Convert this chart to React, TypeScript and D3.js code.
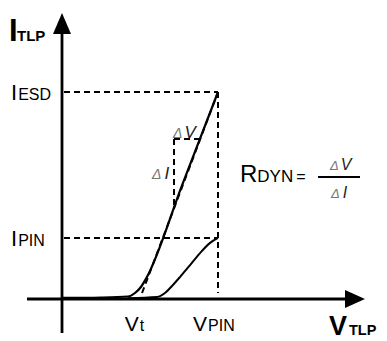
import React from 'react';
import * as d3 from 'd3';

// normalised units: V / VPIN and I / IESD
const mainV = [0, 0.25, 0.423, 0.468, 0.506, 0.538, 0.77, 1];
const mainI = [0.005, 0.007, 0.012, 0.029, 0.058, 0.097, 0.55, 1];
const pinV = [0.42, 0.609, 0.66, 0.705, 0.756, 0.821, 0.885, 0.949, 1];
const pinI = [0.004, 0.0097, 0.029, 0.063, 0.106, 0.164, 0.222, 0.271, 0.295];
const tangentV = [0.513, 1];
const tangentI = [0.029, 1];
const iLevels = [1, 0.295];
const iNames = ['ESD', 'PIN'];
const vLevels = [0.44, 1];
const vNames = ['t', 'PIN'];
const deltaTop = 0.773;
const deltaLeft = 0.718;

const W = 387;
const H = 341;
const font = '"Liberation Sans", Arial, sans-serif';

const App = () => {
    const x = d3.scaleLinear().domain([0, 1]).range([62, 218]);
    const y = d3.scaleLinear().domain([0, 1]).range([299, 92]);

    const line = d3
        .line<[number, number]>()
        .x((d) => x(d[0]))
        .y((d) => y(d[1]))
        .curve(d3.curveMonotoneX);
    const straight = d3
        .line<[number, number]>()
        .x((d) => x(d[0]))
        .y((d) => y(d[1]));

    const mainPts = mainV.map((v, i) => [v, mainI[i]] as [number, number]);
    const pinPts = pinV.map((v, i) => [v, pinI[i]] as [number, number]);
    const tanPts = tangentV.map((v, i) => [v, tangentI[i]] as [number, number]);

    // tangent line helpers for the delta triangle
    const slope = (tangentI[1] - tangentI[0]) / (tangentV[1] - tangentV[0]);
    const iAt = (v: number) => tangentI[0] + (v - tangentV[0]) * slope;
    const vAt = (i: number) => tangentV[0] + (i - tangentI[0]) / slope;

    const x0 = x(0);
    const y0 = y(0);
    const dash = '6,4';

    return (
        <svg width={W} height={H} style={{ position: 'absolute', left: 0, top: 0, background: '#fff' }} fontFamily={font}>
            {/* axes */}
            <line x1={27} x2={350} y1={y0} y2={y0} stroke="#000" strokeWidth={2.8} />
            <path d={`M365,${y0} L345,${y0 - 9} L345,${y0 + 9} Z`} fill="#000" />
            <line x1={x0} x2={x0} y1={333} y2={28} stroke="#000" strokeWidth={2.8} />
            <path d={`M${x0},13 L${x0 - 9},34 L${x0 + 9},34 Z`} fill="#000" />

            {/* reference dashed lines */}
            {iLevels.map((lv, i) => (
                <line key={'h' + i} x1={x0 + 2} x2={x(1)} y1={y(lv)} y2={y(lv)} stroke="#000" strokeWidth={2} strokeDasharray={dash} />
            ))}
            <line x1={x(1)} x2={x(1)} y1={y(1)} y2={y0 - 6} stroke="#000" strokeWidth={2} strokeDasharray={dash} />

            {/* tangent */}
            <path d={straight(tanPts) || ''} fill="none" stroke="#000" strokeWidth={2} strokeDasharray={dash} />

            {/* delta triangle */}
            <line x1={x(deltaLeft)} x2={x(deltaLeft)} y1={y(deltaTop)} y2={y(iAt(deltaLeft))} stroke="#000" strokeWidth={2} strokeDasharray={dash} />
            <line x1={x(deltaLeft)} x2={x(vAt(deltaTop))} y1={y(deltaTop)} y2={y(deltaTop)} stroke="#000" strokeWidth={2} strokeDasharray={dash} />

            {/* curves */}
            <path d={line(mainPts) || ''} fill="none" stroke="#000" strokeWidth={2.2} />
            <path d={line(pinPts) || ''} fill="none" stroke="#000" strokeWidth={2} />

            {/* axis titles */}
            <text x={9} y={41} fontWeight="bold" fontSize={31}>I</text>
            <text x={17} y={41} fontWeight="bold" fontSize={15}>TLP</text>
            <text x={329} y={335} fontWeight="bold" fontSize={27}>V</text>
            <text x={349} y={335} fontWeight="bold" fontSize={14.5}>TLP</text>

            {/* current labels */}
            {iLevels.map((lv, i) => (
                <text key={'il' + i} x={11} y={y(lv) + 8} fontSize={22}>
                    I<tspan fontSize={16} dx={1}>{iNames[i]}</tspan>
                </text>
            ))}

            {/* voltage labels */}
            {vLevels.map((lv, i) => (
                <text key={'vl' + i} x={x(lv) - 6 - (i ? 19 : 0)} y={331} fontSize={21}>
                    V<tspan fontSize={16} dx={1}>{vNames[i]}</tspan>
                </text>
            ))}

            {/* delta labels on chart */}
            <text x={173} y={138} fontSize={17} fontStyle="italic">
                <tspan fill="#777" fontSize={14}>Δ</tspan>
                <tspan fill="#222" dx={2}>V</tspan>
            </text>
            <text x={152} y={179} fontSize={17} fontStyle="italic">
                <tspan fill="#777" fontSize={14}>Δ</tspan>
                <tspan fill="#222" dx={3}>I</tspan>
            </text>

            {/* R_DYN formula */}
            <text x={240} y={182} fontSize={24}>
                R<tspan fontSize={17}>DYN</tspan>
                <tspan fontSize={16} dx={3}>=</tspan>
            </text>
            <line x1={318} x2={360} y1={177} y2={177} stroke="#000" strokeWidth={2} />
            <text x={330} y={170} fontSize={16} fontStyle="italic">
                <tspan fill="#777" fontSize={13}>Δ</tspan>
                <tspan fill="#222" dx={2}>V</tspan>
            </text>
            <text x={331} y={198} fontSize={16} fontStyle="italic">
                <tspan fill="#777" fontSize={13}>Δ</tspan>
                <tspan fill="#222" dx={3}>I</tspan>
            </text>
        </svg>
    );
};

export default App;
